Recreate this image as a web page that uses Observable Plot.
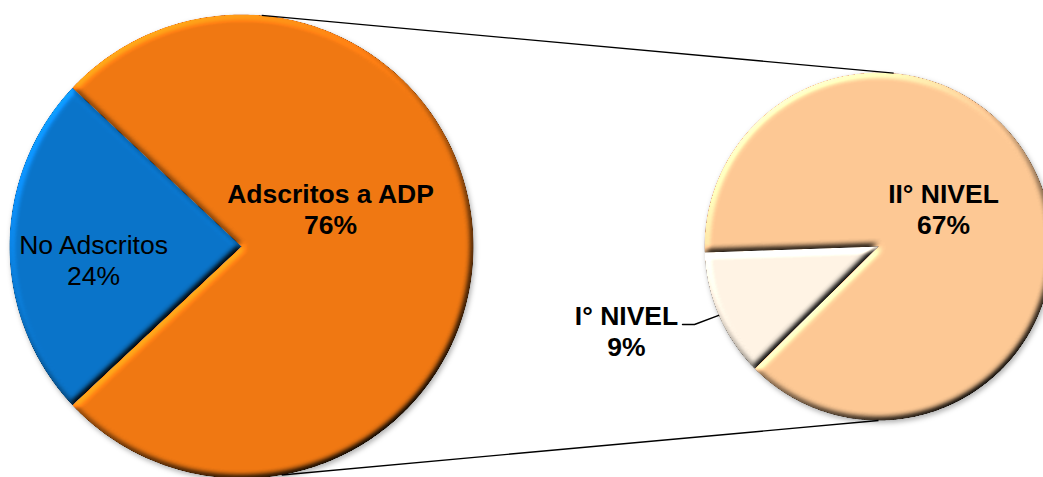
<!DOCTYPE html>
<html><head><meta charset="utf-8">
<script src="https://cdn.jsdelivr.net/npm/d3@7"></script>
<script src="https://cdn.jsdelivr.net/npm/@observablehq/plot@0.6"></script>
<style>html,body{margin:0;padding:0;background:#fff;overflow:hidden}</style>
</head><body><div id="chart"></div>
<script>
// ---- data ----
const mainCategories = ["No Adscritos", "Adscritos a ADP"];
const mainValues = [24, 76];
const mainColors = ["#0a74c9", "#f07812"];
const subCategories = ["I° NIVEL", "II° NIVEL"];
const subValues = [9, 67];
const subColors = ["#fff3e4", "#fdc894"];

// ---- layout ----
const W = 1043, H = 477;
const main = {cx: 241, cy: 246, r: 232};
const sub = {cx: 878, cy: 246, r: 174};
const mainStart = 270 - 360 * mainValues[0] / d3.sum(mainValues) / 2; // first slice faces left
const subStart = 268 - 360 * subValues[0] / d3.sum(subValues);        // first slice ends just below 9 o'clock
const labelOffsets = {
  "No Adscritos": [-148, 13.5],
  "Adscritos a ADP": [89, -38],
  "I° NIVEL": [-252, 84.5],
  "II° NIVEL": [65, -37.5]
};
const boldLabels = new Set(["Adscritos a ADP", "I° NIVEL", "II° NIVEL"]);

// degrees clockwise from 12 o'clock
function polar(p, deg, rr = p.r) {
  const a = deg * Math.PI / 180;
  return {x: p.cx + rr * Math.sin(a), y: p.cy - rr * Math.cos(a)};
}
function slicePolygons(cats, vals, start, p) {
  const total = d3.sum(vals);
  let a = start;
  const pts = [], mids = {};
  cats.forEach((c, i) => {
    const span = 360 * vals[i] / total;
    const n = Math.max(2, Math.ceil(span * 2));
    pts.push({cat: c, x: p.cx, y: p.cy});
    for (let k = 0; k <= n; k++) pts.push({cat: c, ...polar(p, a + span * k / n)});
    pts.push({cat: c, x: p.cx, y: p.cy});
    mids[c] = a + span / 2;
    a += span;
  });
  return {pts, mids};
}
const mainPie = slicePolygons(mainCategories, mainValues, mainStart, main);
const subPie = slicePolygons(subCategories, subValues, subStart, sub);

const connectors = [
  {a: polar(main, 5), b: polar(sub, 5)},
  {a: polar(main, 170), b: polar(sub, 180)}
];

const labels = [];
mainCategories.forEach((c, i) => labels.push({cat: c, text: `${c}\n${mainValues[i]}%`, x: main.cx + labelOffsets[c][0], y: main.cy + labelOffsets[c][1]}));
subCategories.forEach((c, i) => labels.push({cat: c, text: `${c}\n${subValues[i]}%`, x: sub.cx + labelOffsets[c][0], y: sub.cy + labelOffsets[c][1]}));

// leader line for I° NIVEL
const lab1 = labels.find(d => d.cat === "I° NIVEL");
const leader = [
  polar(sub, subPie.mids["I° NIVEL"]),
  {x: lab1.x + 68, y: lab1.y - 6.5},
  {x: lab1.x + 56, y: lab1.y - 6.5}
];

const chart = Plot.plot({
  width: W, height: H,
  margin: 0,
  x: {domain: [0, W], range: [0, W], axis: null},
  y: {domain: [0, H], range: [0, H], axis: null},
  color: {domain: [...mainCategories, ...subCategories], range: [...mainColors, ...subColors]},
  style: {fontFamily: "'Liberation Sans', Arial, sans-serif", background: "white"},
  marks: [
    Plot.line(mainPie.pts, {x: "x", y: "y", z: "cat", fill: "cat", stroke: "none"}),
    Plot.line(subPie.pts, {x: "x", y: "y", z: "cat", fill: "cat", stroke: "none"}),
    Plot.link(connectors, {x1: d => d.a.x, y1: d => d.a.y, x2: d => d.b.x, y2: d => d.b.y, stroke: "#000", strokeWidth: 1.4}),
    Plot.line(leader, {x: "x", y: "y", stroke: "#000", strokeWidth: 1.4}),
    Plot.text(labels.filter(d => !boldLabels.has(d.cat)), {x: "x", y: "y", text: "text", fontSize: 26.5, lineHeight: 1.17, fill: "#000"}),
    Plot.text(labels.filter(d => boldLabels.has(d.cat)), {x: "x", y: "y", text: "text", fontSize: 26.5, lineHeight: 1.17, fontWeight: "bold", fill: "#000"})
  ]
});

// soft bevel + drop shadow (Excel-like)
const svg = d3.select(chart);
svg.insert("defs", ":first-child").html(`
  <filter id="bevel" x="-5%" y="-5%" width="110%" height="110%" color-interpolation-filters="sRGB">
    <feGaussianBlur in="SourceAlpha" stdDeviation="3" result="blur"/>
    <feDiffuseLighting in="blur" surfaceScale="3.5" diffuseConstant="1" lighting-color="#fff" result="light">
      <feDistantLight azimuth="235" elevation="45"/>
    </feDiffuseLighting>
    <feComposite in="light" in2="SourceAlpha" operator="in" result="lightIn"/>
    <feComposite in="SourceGraphic" in2="lightIn" operator="arithmetic" k1="1.414" k2="0" k3="0" k4="0"/>
  </filter>
  <filter id="shadow" x="-10%" y="-10%" width="120%" height="120%" color-interpolation-filters="sRGB">
    <feDropShadow dx="1.5" dy="2.5" stdDeviation="2.5" flood-color="#000" flood-opacity="0.3"/>
  </filter>`);
const lineGroups = chart.querySelectorAll('g[aria-label="line"]');
[lineGroups[0], lineGroups[1]].forEach(g => {
  g.setAttribute("filter", "url(#shadow)");
  g.querySelectorAll("path").forEach(p => p.setAttribute("filter", "url(#bevel)"));
});
document.getElementById("chart").appendChild(chart);
</script>
</body></html>
